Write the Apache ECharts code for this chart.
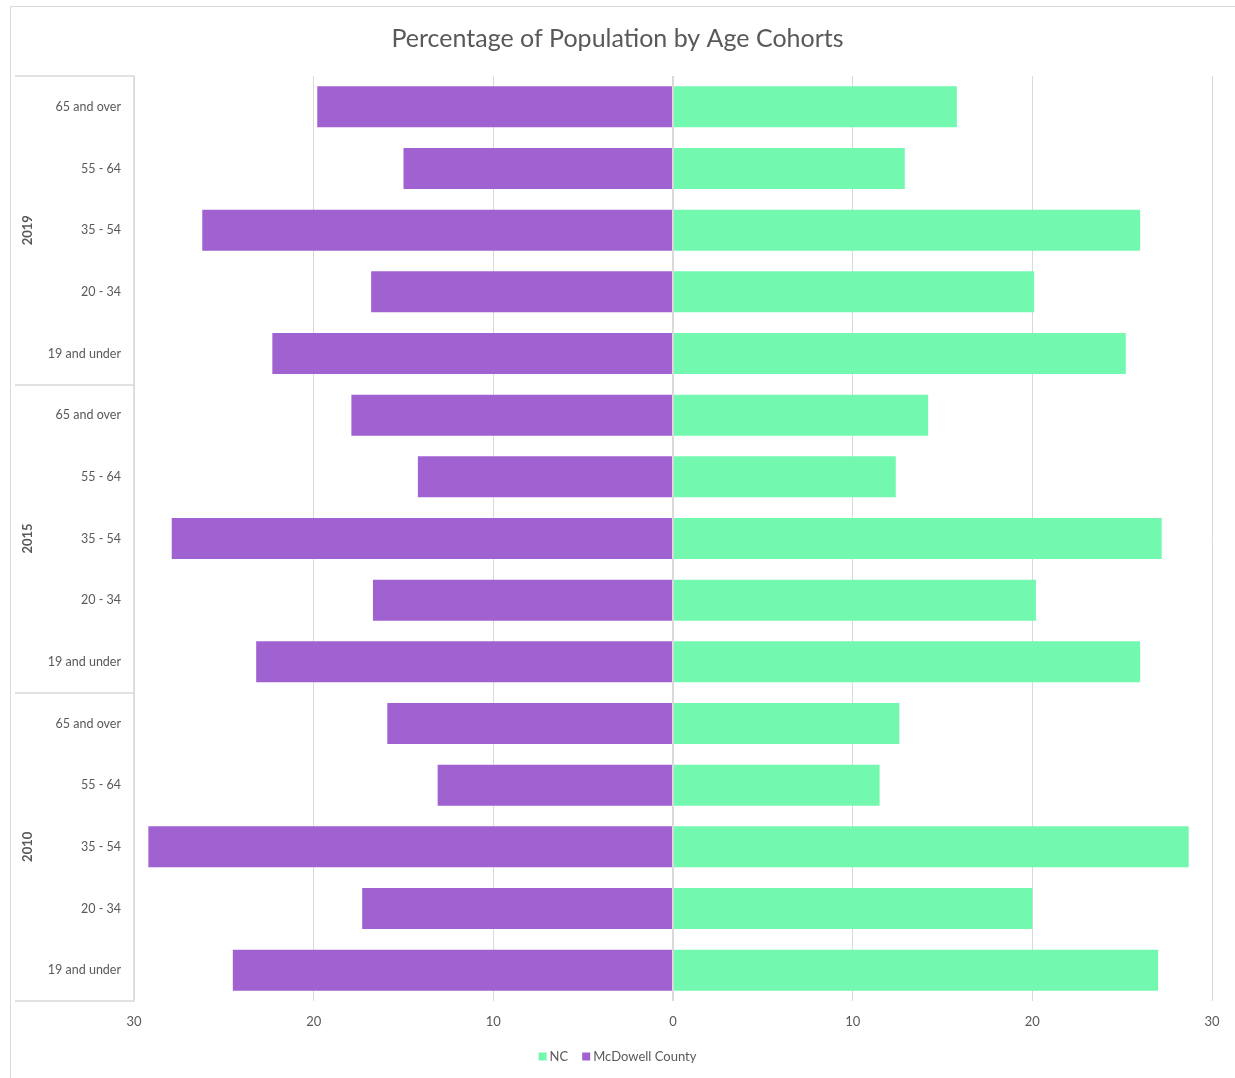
<!DOCTYPE html>
<html>
<head>
<meta charset="utf-8">
<title>Percentage of Population by Age Cohorts</title>
<script src="https://cdn.jsdelivr.net/npm/echarts@6/dist/echarts.min.js"></script>
<style>
  html, body { margin: 0; padding: 0; background: #ffffff; }
  #chart { width: 1235px; height: 1078px; }
</style>
</head>
<body>
<div id="chart"></div>
<script>
// Age cohorts within each year, bottom to top
const ageCohorts = ['19 and under', '20 - 34', '35 - 54', '55 - 64', '65 and over'];
const years = ['2010', '2015', '2019'];

// Percent of population, listed per year in the cohort order above
const ncValues = [
  27.0, 20.0, 28.7, 11.5, 12.6,   // 2010
  26.0, 20.2, 27.2, 12.4, 14.2,   // 2015
  25.2, 20.1, 26.0, 12.9, 15.8    // 2019
];
const mcdowellValues = [
  24.5, 17.3, 29.2, 13.1, 15.9,   // 2010
  23.2, 16.7, 27.9, 14.2, 17.9,   // 2015
  22.3, 16.8, 26.2, 15.0, 19.8    // 2019
];

const xTicks = { min: -30, max: 30, interval: 10 };

const FONT = 'Lato, "Open Sans", sans-serif';
const GREY_TEXT = '#595959';
const GRID_LINE = '#d9d9d9';

// One category per (year, cohort) pair
const categories = [];
years.forEach(() => ageCohorts.forEach(a => categories.push(a)));

const chart = echarts.init(document.getElementById('chart'), null, { renderer: 'canvas' });

chart.setOption({
  backgroundColor: '#ffffff',
  animation: false,
  textStyle: { fontFamily: FONT },
  graphic: [{
    type: 'rect',
    left: 8, top: 4,
    shape: { width: 1225, height: 1090 },
    style: { fill: 'none', stroke: GRID_LINE, lineWidth: 1 },
    silent: true, z: -10
  }],
  title: {
    text: 'Percentage of Population by Age Cohorts',
    left: 'center',
    top: 21,
    textStyle: { fontFamily: FONT, fontSize: 25, fontWeight: 'normal', color: GREY_TEXT }
  },
  legend: {
    bottom: 10,
    left: 'center',
    itemWidth: 8, itemHeight: 8, itemGap: 14,
    icon: 'rect',
    textStyle: { fontFamily: FONT, fontSize: 13, color: GREY_TEXT, padding: [0, 0, 0, -2] },
    data: ['NC', 'McDowell County']
  },
  grid: { left: 134, right: 23, top: 76, bottom: 77, containLabel: false },
  xAxis: {
    type: 'value',
    min: xTicks.min, max: xTicks.max, interval: xTicks.interval,
    axisLine: { show: false },
    axisTick: { show: false },
    splitLine: { lineStyle: { color: GRID_LINE, width: 1 } },
    axisLabel: {
      color: GREY_TEXT, fontSize: 13, margin: 14,
      formatter: v => String(Math.abs(v))
    }
  },
  yAxis: [
    {
      type: 'category',
      data: categories,
      position: 'left',
      axisLine: { show: false },
      axisTick: { show: false },
      axisLabel: { color: GREY_TEXT, fontSize: 12.5, margin: 13, padding: [2, 0, 0, 0] }
    },
    {
      type: 'category',
      data: years,
      position: 'left',
      offset: 0,
      boundaryGap: true,
      axisLine: { show: true, lineStyle: { color: GRID_LINE, width: 1.5 } },
      axisTick: { show: true, length: 119, lineStyle: { color: GRID_LINE, width: 1.5 } },
      axisLabel: { color: GREY_TEXT, fontSize: 13, rotate: 90, margin: 100, fontWeight: 'bold' },
      splitLine: { show: false }
    }
  ],
  series: [
    {
      name: 'NC',
      type: 'bar',
      stack: 'pop',
      yAxisIndex: 0,
      barWidth: 41,
      itemStyle: { color: '#73F8B0' },
      data: ncValues
    },
    {
      name: 'McDowell County',
      type: 'bar',
      stack: 'pop',
      yAxisIndex: 0,
      barWidth: 41,
      itemStyle: { color: '#A062D0' },
      data: mcdowellValues.map(v => -v),
      markLine: {
        silent: true,
        symbol: 'none',
        label: { show: false },
        lineStyle: { color: GRID_LINE, type: 'solid', width: 2 },
        data: [{ xAxis: 0 }]
      }
    }
  ]
});
</script>
</body>
</html>
